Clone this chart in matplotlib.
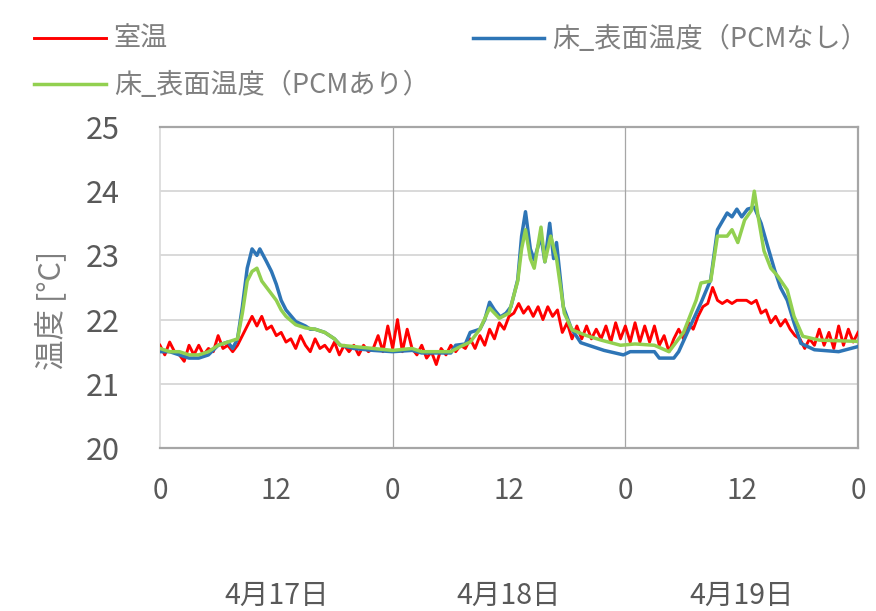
import numpy as np
import matplotlib
matplotlib.use('Agg')
import matplotlib.pyplot as plt
import matplotlib.transforms as mtransforms

plt.rcParams['font.family'] = ['Noto Sans CJK JP', 'DejaVu Sans']

# ---- data (hours from 4/17 0:00) ----
labels = ['室温', '床_表面温度（PCMなし）', '床_表面温度（PCMあり）']
day_labels = ['4月17日', '4月18日', '4月19日']
xtick_hours = [0, 12, 24, 36, 48, 60, 72]
xtick_labels = ['0', '12', '0', '12', '0', '12', '0']

# room temperature, every 30 min
room_temp = [
    21.6, 21.45, 21.65, 21.5, 21.45, 21.35, 21.6, 21.45, 21.6, 21.45, 21.55, 21.5, 21.75, 21.55, 21.6, 21.5,
    21.6, 21.75, 21.9, 22.05, 21.9, 22.05, 21.85, 21.9, 21.75, 21.8, 21.65, 21.7, 21.55, 21.75, 21.6, 21.5,
    21.7, 21.55, 21.6, 21.5, 21.65, 21.45, 21.6, 21.5, 21.6, 21.45, 21.6, 21.5, 21.55, 21.75, 21.5, 21.9,
    21.55, 22.0, 21.5, 21.85, 21.55, 21.45, 21.6, 21.4, 21.5, 21.3, 21.55, 21.45, 21.6, 21.5, 21.6, 21.55,
    21.7, 21.55, 21.75, 21.6, 21.85, 21.7, 21.95, 21.85, 22.05, 22.1, 22.25, 22.1, 22.2, 22.05, 22.2, 22.0,
    22.2, 22.05, 22.15, 21.8, 21.95, 21.7, 21.9, 21.7, 21.9, 21.7, 21.85, 21.7, 21.9, 21.65, 21.95, 21.7,
    21.9, 21.65, 21.95, 21.65, 21.9, 21.65, 21.9, 21.6, 21.75, 21.5, 21.7, 21.85, 21.7, 21.95, 21.85, 22.05,
    22.2, 22.25, 22.5, 22.3, 22.25, 22.3, 22.25, 22.3, 22.3, 22.3, 22.25, 22.3, 22.1, 22.15, 21.95, 22.05,
    21.9, 22.0, 21.85, 21.75, 21.7, 21.55, 21.7, 21.6, 21.85, 21.6, 21.8, 21.55, 21.9, 21.6, 21.85, 21.65,
    21.8,
]
room_hours = np.arange(len(room_temp)) * 0.5

# floor surface, no PCM
nopcm_hours = [0, 1, 2, 3, 4, 5, 6, 7, 7.5, 8, 8.5, 9, 9.5, 10, 10.3, 11, 11.5, 12, 12.5, 13,
               14, 15, 15.5, 16, 17, 18, 18.6, 20, 22, 24, 26, 27, 30, 30.5, 31.5, 32, 33, 33.5,
               34, 34.5, 35.1, 35.7, 36.2, 36.9, 37.3, 37.7, 38.2, 38.6, 39.3, 39.7, 40.2, 40.6,
               40.9, 41.6, 42.4, 43.4, 45.8, 47.8, 48.5, 51, 51.5, 53, 53.5, 54.4, 55.8, 56.8,
               57.5, 58.5, 59, 59.5, 60, 60.6, 61.3, 62, 62.7, 63.4, 64, 64.7, 65.4, 66.1, 67.5,
               70, 72]
nopcm_temp = [21.5, 21.5, 21.45, 21.4, 21.4, 21.45, 21.6, 21.65, 21.55, 21.7, 22.2, 22.8, 23.1, 23.0,
              23.1, 22.9, 22.75, 22.55, 22.3, 22.15, 21.97, 21.9, 21.85, 21.85, 21.8, 21.7, 21.6,
              21.55, 21.52, 21.5, 21.52, 21.48, 21.48, 21.6, 21.62, 21.8, 21.85, 22.0, 22.27, 22.15,
              22.04, 22.1, 22.2, 22.62, 23.3, 23.68, 23.1, 22.93, 23.3, 22.9, 23.5, 22.95, 23.2, 22.2,
              21.87, 21.64, 21.52, 21.45, 21.5, 21.5, 21.4, 21.4, 21.5, 21.8, 22.26, 22.62, 23.4,
              23.66, 23.6, 23.72, 23.6, 23.72, 23.75, 23.5, 23.13, 22.77, 22.5, 22.3, 21.95, 21.63,
              21.53, 21.5, 21.58]

# floor surface, with PCM
pcm_hours = [0, 1, 2, 3, 4, 5, 6, 7, 8, 8.5, 9, 9.5, 10, 10.5, 11, 11.5, 12, 12.5, 13, 14, 15, 16,
             17, 18, 18.6, 20, 22, 24, 26, 27, 30, 31, 32, 33, 34, 35, 36, 36.9, 37.3, 37.7, 38.2,
             38.6, 39.3, 39.7, 40.3, 40.9, 41.7, 42.5, 44, 45.5, 47.5, 49, 51, 52.5, 54, 55.3, 55.8,
             56.8, 57.5, 58.5, 59, 59.6, 60.3, 61, 61.3, 61.7, 62.3, 63, 63.7, 64.7, 65.4, 66.3, 68,
             72]
pcm_temp = [21.55, 21.5, 21.5, 21.45, 21.45, 21.5, 21.6, 21.65, 21.7, 22.1, 22.6, 22.75, 22.8, 22.6,
            22.5, 22.4, 22.3, 22.15, 22.05, 21.92, 21.87, 21.85, 21.8, 21.7, 21.6, 21.58, 21.55,
            21.52, 21.55, 21.5, 21.5, 21.58, 21.65, 21.85, 22.18, 22.02, 22.1, 22.6, 23.1, 23.4,
            22.95, 22.8, 23.44, 22.9, 23.3, 22.95, 22.1, 21.84, 21.75, 21.68, 21.6, 21.62, 21.6,
            21.5, 21.8, 22.3, 22.57, 22.6, 23.3, 23.3, 23.4, 23.2, 23.55, 23.7, 24.0, 23.6, 23.07,
            22.8, 22.68, 22.46, 22.05, 21.74, 21.68, 21.66]

# ---- figure ----
fig = plt.figure(figsize=(8.76, 6.11), dpi=100)
ax = fig.add_axes([0.1826, 0.2668, 0.7969, 0.5254])

text_col = '#595959'
light_col = '#7f7f7f'
l_red, = ax.plot(room_hours, room_temp, color='#ff0000', lw=2.1, zorder=3)
l_blue, = ax.plot(nopcm_hours, nopcm_temp, color='#2e75b6', lw=2.5, zorder=4)
l_green, = ax.plot(pcm_hours, pcm_temp, color='#92d050', lw=2.5, zorder=5)

ax.set_xlim(0, 72)
ax.set_ylim(20, 25)
ax.set_yticks([20, 21, 22, 23, 24, 25])
ax.set_xticks(xtick_hours)
ax.set_xticklabels(xtick_labels)

for y in [21, 22, 23, 24]:
    ax.axhline(y, color='#d9d9d9', lw=1.4, zorder=1)
for x in [24, 48]:
    ax.axvline(x, color='#a6a6a6', lw=0.9, zorder=1)

for s in ['top', 'bottom', 'right']:
    ax.spines[s].set_color('#a6a6a6')
    ax.spines[s].set_linewidth(1.6)
ax.spines['left'].set_color('#d9d9d9')
ax.spines['left'].set_linewidth(1.2)

ax.tick_params(axis='y', length=0, pad=29, labelsize=22, labelcolor=text_col)
ax.tick_params(axis='x', length=0, pad=20, labelsize=20, labelcolor=text_col)

fig.text(51 / 876, 1 - 310 / 611, '温度 [°C]', rotation=90, ha='center', va='center',
         fontsize=22, color=light_col)

trans = mtransforms.blended_transform_factory(ax.transData, ax.transAxes)
for i, d in enumerate(day_labels):
    ax.text(12 + 24 * i, -0.461, d, transform=trans, ha='center', va='center',
            fontsize=20.5, color=text_col)

leg = fig.legend([l_red, l_green, l_blue], [labels[0], labels[2], labels[1]],
                 ncol=2, mode='expand', loc='upper left',
                 bbox_to_anchor=(23 / 876, 1 - 15 / 611, 856 / 876, 0.0),
                 frameon=False, fontsize=19.5, handlelength=2.65, handletextpad=0.3,
                 labelspacing=0.7, borderaxespad=0)
for t in leg.get_texts():
    t.set_color(light_col)

fig.savefig('out.png', dpi=100)
